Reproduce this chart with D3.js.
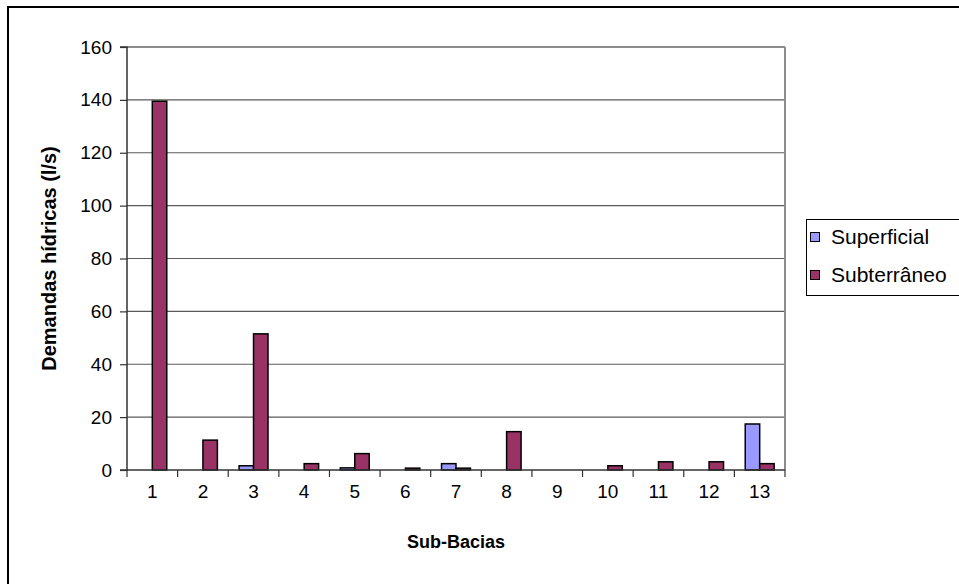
<!DOCTYPE html>
<html><head><meta charset="utf-8">
<script src="https://cdn.jsdelivr.net/npm/d3@7"></script>
<style>body{margin:0;background:#fff}svg{display:block;font-family:"Liberation Sans",Arial,sans-serif}</style>
</head><body>
<svg id="c" width="959" height="584"></svg>
<script>
const categories = ["1","2","3","4","5","6","7","8","9","10","11","12","13"];
const superficial = [0,0,1.6,0,0.8,0,2.4,0,0,0,0,0,17.4];
const subterraneo = [139.5,11.3,51.5,2.4,6.2,0.7,0.7,14.5,0,1.6,3.1,3.1,2.4];
const seriesNames = ["Superficial","Subterrâneo"];
const seriesColors = ["#9999FF","#993366"];
const yTicks = [0,20,40,60,80,100,120,140,160];

const FS = 19;
const svg = d3.select("#c");
const L = 127, R = 785, T = 47, B = 470;

// outer chart border
svg.append("path").attr("d","M8,590 L8,7 L965,7").attr("fill","none").attr("stroke","#000").attr("stroke-width",2);

const x = d3.scaleBand().domain(categories).range([L,R]);
const y = d3.scaleLinear().domain([0,160]).range([B,T]);
const bw = x.bandwidth()/3.5;

// gridlines
svg.append("g").selectAll("line").data(yTicks.filter(d=>d>0)).join("line")
  .attr("x1",L).attr("x2",R).attr("y1",d=>y(d)).attr("y2",d=>y(d))
  .attr("stroke",d=>d===160?"#8c8c8c":"#5a5a5a").attr("stroke-width",d=>d===160?2:1.2);
// plot right border
svg.append("line").attr("x1",R).attr("x2",R).attr("y1",T).attr("y2",B).attr("stroke","#8c8c8c").attr("stroke-width",2);

// bars
const data = categories.map((c,i)=>({c, vals:[superficial[i],subterraneo[i]]}));
const g = svg.append("g");
data.forEach(d=>{
  d.vals.forEach((v,j)=>{
    if(v<=0) return;
    const cx = x(d.c)+x.bandwidth()/2;
    g.append("rect")
      .attr("x", cx + (j===0?-bw:0))
      .attr("y", y(v))
      .attr("width", bw)
      .attr("height", B - y(v))
      .attr("fill", seriesColors[j])
      .attr("stroke","#000").attr("stroke-width",1.5);
  });
});

// y axis
const yAxis = d3.axisLeft(y).tickValues(yTicks).tickSize(7).tickPadding(8);
const ya = svg.append("g").attr("transform",`translate(${L},0)`).call(yAxis);
ya.select(".domain").attr("stroke","#333").attr("stroke-width",1.5).attr("d",`M-7,${T}H0V${B}H-7`);
ya.selectAll(".tick line").attr("stroke","#333").attr("stroke-width",1.2);
ya.selectAll("text").attr("font-size",FS).attr("fill","#000").attr("font-family","Liberation Sans, Arial, sans-serif");

// x axis
const xa = svg.append("g").attr("transform",`translate(0,${B})`);
xa.append("line").attr("x1",L).attr("x2",R).attr("stroke","#333").attr("stroke-width",1.5);
const bounds = categories.map(c=>x(c)).concat([R]);
xa.selectAll("line.t").data(bounds).join("line").attr("class","t")
  .attr("x1",d=>d).attr("x2",d=>d).attr("y1",0).attr("y2",7).attr("stroke","#333").attr("stroke-width",1.2);
xa.selectAll("text").data(categories).join("text")
  .attr("x",d=>x(d)+x.bandwidth()/2).attr("y",28).attr("text-anchor","middle")
  .attr("font-size",FS).text(d=>d);

// axis titles
svg.append("text").attr("x",456).attr("y",548).attr("text-anchor","middle")
  .attr("font-size",18).attr("font-weight","bold").text("Sub-Bacias");
svg.append("text").attr("transform",`translate(56,${(T+B)/2}) rotate(-90)`).attr("text-anchor","middle")
  .attr("font-size",FS+1).attr("font-weight","bold").text("Demandas hídricas (l/s)");

// legend
const lg = svg.append("g");
lg.append("rect").attr("x",806.5).attr("y",219.5).attr("width",170).attr("height",76)
  .attr("fill","#fff").attr("stroke","#000").attr("stroke-width",1);
seriesNames.forEach((n,i)=>{
  const yy = 237 + i*38;
  lg.append("rect").attr("x",810.5).attr("y",yy-4.5).attr("width",9).attr("height",9)
    .attr("fill",seriesColors[i]).attr("stroke","#000").attr("stroke-width",1);
  lg.append("text").attr("x",831).attr("y",yy+7).attr("font-size",21).text(n);
});
</script>
</body></html>
